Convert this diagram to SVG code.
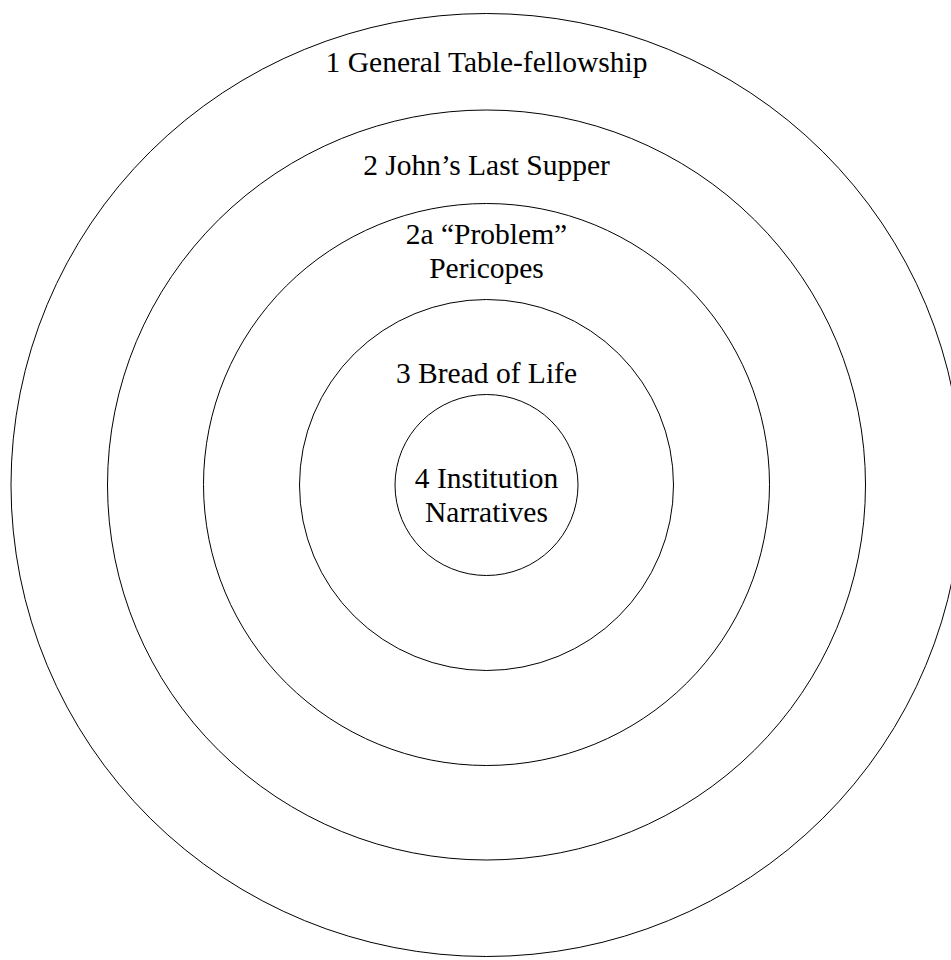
<svg xmlns="http://www.w3.org/2000/svg" width="951" height="960" viewBox="0 0 951 960">
<style>
.ring{fill:none;stroke:#000;stroke-width:1}
.lbl{font-family:"Liberation Serif","Times New Roman","DejaVu Serif",serif;font-size:29.5px;fill:#000;text-anchor:middle}
</style>
<rect width="951" height="960" fill="#fff"/>
<g id="ring1">
<ellipse class="ring" cx="486.5" cy="485" rx="475.5" ry="471.5"/>
<text class="lbl" x="486.5" y="71.5">1 General Table-fellowship</text>
</g>
<g id="ring2">
<ellipse class="ring" cx="486.5" cy="485" rx="379" ry="375"/>
<text class="lbl" x="486.5" y="175">2 John’s Last Supper</text>
</g>
<g id="ring2a">
<ellipse class="ring" cx="486.5" cy="484.5" rx="283" ry="281"/>
<text class="lbl" x="486.5" y="244">2a “Problem”</text>
<text class="lbl" x="486.5" y="277.5">Pericopes</text>
</g>
<g id="ring3">
<ellipse class="ring" cx="486.5" cy="485" rx="187" ry="185.5"/>
<text class="lbl" x="486.5" y="382.5">3 Bread of Life</text>
</g>
<g id="ring4">
<ellipse class="ring" cx="486.5" cy="485" rx="91.5" ry="90.5"/>
<text class="lbl" x="486.5" y="487.5">4 Institution</text>
<text class="lbl" x="486.5" y="521.5">Narratives</text>
</g>
<g id="connectors"/>
</svg>
